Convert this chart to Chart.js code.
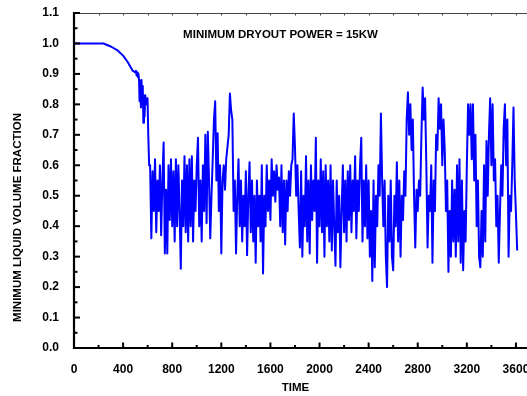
<!DOCTYPE html>
<html>
<head>
<meta charset="utf-8">
<script src="https://cdn.jsdelivr.net/npm/chart.js@4/dist/chart.umd.min.js"></script>
<style>
html,body{margin:0;padding:0;background:#fff;}
canvas{display:block;}
</style>
</head>
<body>
<canvas id="c" width="527" height="396"></canvas>
<script>
// ---- DATA ----
const TITLE = "MINIMUM DRYOUT POWER = 15KW";
const X_TITLE = "TIME";
const Y_TITLE = "MINIMUM LIQUID VOLUME FRACTION";

const X_TICKS = [0,400,800,1200,1600,2000,2400,2800,3200,3600];
const Y_TICKS = [0.0,0.1,0.2,0.3,0.4,0.5,0.6,0.7,0.8,0.9,1.0,1.1];

// early (smooth) phase
const EARLY_TIME = [0,240,300,355,400,436,477,500,505,510,515,520,525,530,534,540,545,550,555,560,565,570,575,580,590,599,605,612];
const EARLY_VALUE = [1.0,1.0,0.99,0.977,0.96,0.94,0.911,0.905,0.91,0.895,0.905,0.89,0.9,0.88,0.81,0.87,0.79,0.88,0.8,0.86,0.74,0.83,0.76,0.83,0.8,0.82,0.7,0.6];

// oscillating phase, sampled every 10 time units from 620 to 3610
const OSC_TIME = [
 620,630,640,650,660,670,680,690,700,710,
 720,730,740,750,760,770,780,790,800,810,
 820,830,840,850,860,870,880,890,900,910,
 920,930,940,950,960,970,980,990,1000,1010,
 1020,1030,1040,1050,1060,1070,1080,1090,1100,1110,
 1120,1130,1140,1150,1160,1170,1180,1190,1200,1210,
 1220,1230,1240,1250,1260,1270,1280,1290,1300,1310,
 1320,1330,1340,1350,1360,1370,1380,1390,1400,1410,
 1420,1430,1440,1450,1460,1470,1480,1490,1500,1510,
 1520,1530,1540,1550,1560,1570,1580,1590,1600,1610,
 1620,1630,1640,1650,1660,1670,1680,1690,1700,1710,
 1720,1730,1740,1750,1760,1770,1780,1790,1800,1810,
 1820,1830,1840,1850,1860,1870,1880,1890,1900,1910,
 1920,1930,1940,1950,1960,1970,1980,1990,2000,2010,
 2020,2030,2040,2050,2060,2070,2080,2090,2100,2110,
 2120,2130,2140,2150,2160,2170,2180,2190,2200,2210,
 2220,2230,2240,2250,2260,2270,2280,2290,2300,2310,
 2320,2330,2340,2350,2360,2370,2380,2390,2400,2410,
 2420,2430,2440,2450,2460,2470,2480,2490,2500,2510,
 2520,2530,2540,2550,2560,2570,2580,2590,2600,2610,
 2620,2630,2640,2650,2660,2670,2680,2690,2700,2710,
 2720,2730,2740,2750,2760,2770,2780,2790,2800,2810,
 2820,2830,2840,2850,2860,2870,2880,2890,2900,2910,
 2920,2930,2940,2950,2960,2970,2980,2990,3000,3010,
 3020,3030,3040,3050,3060,3070,3080,3090,3100,3110,
 3120,3130,3140,3150,3160,3170,3180,3190,3200,3210,
 3220,3230,3240,3250,3260,3270,3280,3290,3300,3310,
 3320,3330,3340,3350,3360,3370,3380,3390,3400,3410,
 3420,3430,3440,3450,3460,3470,3480,3490,3500,3510,
 3520,3530,3540,3550,3560,3570,3580,3590,3600,3610
];
const OSC_VALUE = [
 0.6,0.36,0.58,0.45,0.62,0.38,0.55,0.45,0.6,0.37,
 0.55,0.675,0.31,0.52,0.31,0.6,0.42,0.62,0.4,0.58,
 0.35,0.62,0.4,0.6,0.45,0.26,0.55,0.4,0.63,0.38,
 0.6,0.35,0.62,0.4,0.63,0.35,0.55,0.45,0.6,0.69,
 0.4,0.55,0.35,0.6,0.45,0.7,0.41,0.71,0.55,0.36,
 0.5,0.62,0.75,0.81,0.55,0.705,0.45,0.6,0.31,0.55,
 0.6,0.52,0.62,0.66,0.7,0.836,0.78,0.75,0.45,0.55,
 0.31,0.5,0.62,0.4,0.55,0.35,0.5,0.4,0.58,0.305,
 0.5,0.61,0.38,0.55,0.35,0.5,0.28,0.55,0.4,0.5,
 0.35,0.6,0.245,0.5,0.4,0.6,0.45,0.55,0.42,0.62,
 0.5,0.58,0.48,0.6,0.52,0.56,0.4,0.6,0.38,0.55,
 0.34,0.55,0.45,0.58,0.5,0.6,0.62,0.77,0.66,0.5,
 0.6,0.45,0.33,0.58,0.3,0.5,0.4,0.63,0.35,0.55,
 0.31,0.6,0.42,0.55,0.45,0.69,0.28,0.55,0.4,0.62,
 0.38,0.58,0.3,0.6,0.4,0.55,0.35,0.6,0.32,0.55,
 0.4,0.27,0.55,0.38,0.5,0.265,0.45,0.6,0.38,0.55,
 0.35,0.58,0.42,0.6,0.38,0.55,0.45,0.63,0.36,0.55,
 0.45,0.6,0.69,0.35,0.55,0.4,0.6,0.36,0.55,0.3,
 0.45,0.22,0.55,0.265,0.5,0.4,0.6,0.5,0.77,0.55,
 0.4,0.55,0.3,0.2,0.5,0.35,0.55,0.3,0.255,0.5,
 0.4,0.61,0.35,0.55,0.3,0.5,0.42,0.58,0.5,0.75,
 0.84,0.7,0.8,0.65,0.75,0.5,0.33,0.52,0.45,0.55,
 0.5,0.7,0.855,0.75,0.82,0.6,0.33,0.5,0.45,0.6,
 0.28,0.55,0.45,0.7,0.65,0.82,0.72,0.8,0.6,0.75,
 0.65,0.45,0.55,0.25,0.45,0.3,0.55,0.35,0.52,0.3,
 0.6,0.35,0.62,0.28,0.55,0.255,0.45,0.35,0.6,0.8,
 0.7,0.8,0.62,0.8,0.55,0.7,0.4,0.55,0.3,0.265,
 0.45,0.3,0.6,0.35,0.68,0.5,0.7,0.82,0.6,0.8,
 0.55,0.62,0.4,0.5,0.28,0.45,0.6,0.5,0.72,0.8,
 0.6,0.75,0.3,0.5,0.45,0.6,0.79,0.55,0.44,0.32
];

const X_MIN = 0, X_MAX = 3690;
const Y_MIN = 0, Y_MAX = 1.1;

// ---- build points ----
const TIME = EARLY_TIME.concat(OSC_TIME);
const VALUE = EARLY_VALUE.concat(OSC_VALUE);
const points = TIME.map((t, i) => ({x: t, y: VALUE[i]}));

const FONT = '"Liberation Sans", Arial, sans-serif';

function midpoints(arr) {
  const out = [];
  for (let i = 0; i < arr.length - 1; i++) out.push((arr[i] + arr[i + 1]) / 2);
  return out;
}

const decorPlugin = {
  id: 'decor',
  afterDatasetsDraw(chart) {
    const {ctx, chartArea: a, scales: {x, y}} = chart;
    const xMinor = midpoints(X_TICKS).concat([X_TICKS[X_TICKS.length - 1] + (X_TICKS[1] - X_TICKS[0]) / 2]);
    ctx.save();
    // top frame line (thin) with small ticks
    ctx.strokeStyle = '#444';
    ctx.lineWidth = 1;
    ctx.beginPath();
    ctx.moveTo(a.left, a.top + 0.5); ctx.lineTo(a.right, a.top + 0.5);
    ctx.stroke();
    X_TICKS.concat(xMinor).forEach(v => {
      if (v <= X_MIN || v > X_MAX) return;
      const px = Math.round(x.getPixelForValue(v)) + 0.5;
      ctx.beginPath(); ctx.moveTo(px, a.top); ctx.lineTo(px, a.top + 2.5); ctx.stroke();
    });
    // main axes
    ctx.strokeStyle = '#000';
    ctx.lineWidth = 2.2;
    ctx.beginPath();
    ctx.moveTo(a.left, a.top - 1); ctx.lineTo(a.left, a.bottom + 1);
    ctx.stroke();
    ctx.beginPath();
    ctx.moveTo(a.left - 1, a.bottom); ctx.lineTo(a.right, a.bottom);
    ctx.stroke();
    // x ticks (inward)
    ctx.lineWidth = 2;
    X_TICKS.forEach(v => {
      const px = x.getPixelForValue(v);
      ctx.beginPath(); ctx.moveTo(px, a.bottom); ctx.lineTo(px, a.bottom - 5.5); ctx.stroke();
    });
    xMinor.forEach(v => {
      if (v > X_MAX) return;
      const px = x.getPixelForValue(v);
      ctx.beginPath(); ctx.moveTo(px, a.bottom); ctx.lineTo(px, a.bottom - 3); ctx.stroke();
    });
    // y ticks (inward)
    Y_TICKS.forEach(v => {
      const py = y.getPixelForValue(v);
      ctx.beginPath(); ctx.moveTo(a.left, py); ctx.lineTo(a.left + 6, py); ctx.stroke();
    });
    midpoints(Y_TICKS).forEach(v => {
      const py = y.getPixelForValue(v);
      ctx.beginPath(); ctx.moveTo(a.left, py); ctx.lineTo(a.left + 3.5, py); ctx.stroke();
    });
    // texts
    ctx.fillStyle = '#000';
    ctx.textAlign = 'center';
    ctx.textBaseline = 'middle';
    ctx.font = 'bold 11.5px ' + FONT;
    ctx.fillText(TITLE, 280.5, 35);
    ctx.fillText(X_TITLE, 295.5, 388);
    ctx.translate(18, 217.5);
    ctx.rotate(-Math.PI / 2);
    ctx.fillText(Y_TITLE, 0, 0);
    ctx.restore();
  }
};

new Chart(document.getElementById('c'), {
  type: 'scatter',
  data: {
    datasets: [{
      data: points,
      showLine: true,
      borderColor: '#0000ff',
      backgroundColor: '#0000ff',
      borderWidth: 2,
      borderJoinStyle: 'round',
      pointRadius: 0,
      tension: 0,
      fill: false
    }]
  },
  options: {
    responsive: false,
    animation: false,
    devicePixelRatio: 1,
    layout: {padding: {left: 0, top: 13, right: 0, bottom: 0}},
    plugins: {legend: {display: false}, tooltip: {enabled: false}, title: {display: false}},
    scales: {
      x: {
        type: 'linear', min: X_MIN, max: X_MAX,
        grid: {display: false}, border: {display: false},
        afterBuildTicks(s) { s.ticks = X_TICKS.map(v => ({value: v})); },
        ticks: {
          autoSkip: false, maxRotation: 0,
          padding: 6, color: '#000',
          font: {family: FONT, size: 12, weight: 'bold'},
          callback: v => String(v)
        },
        afterFit(s) { s.height = 48; s.paddingLeft = 0; s.paddingRight = 0; }
      },
      y: {
        type: 'linear', min: Y_MIN, max: Y_MAX,
        grid: {display: false}, border: {display: false},
        afterBuildTicks(s) { s.ticks = Y_TICKS.map(v => ({value: v})); },
        ticks: {
          autoSkip: false, padding: 7, color: '#000',
          font: {family: FONT, size: 12, weight: 'bold'},
          callback: v => Number(v).toFixed(1)
        },
        afterFit(s) { s.width = 74; s.paddingTop = 0; s.paddingBottom = 0; }
      }
    }
  },
  plugins: [decorPlugin]
});
</script>
</body>
</html>
